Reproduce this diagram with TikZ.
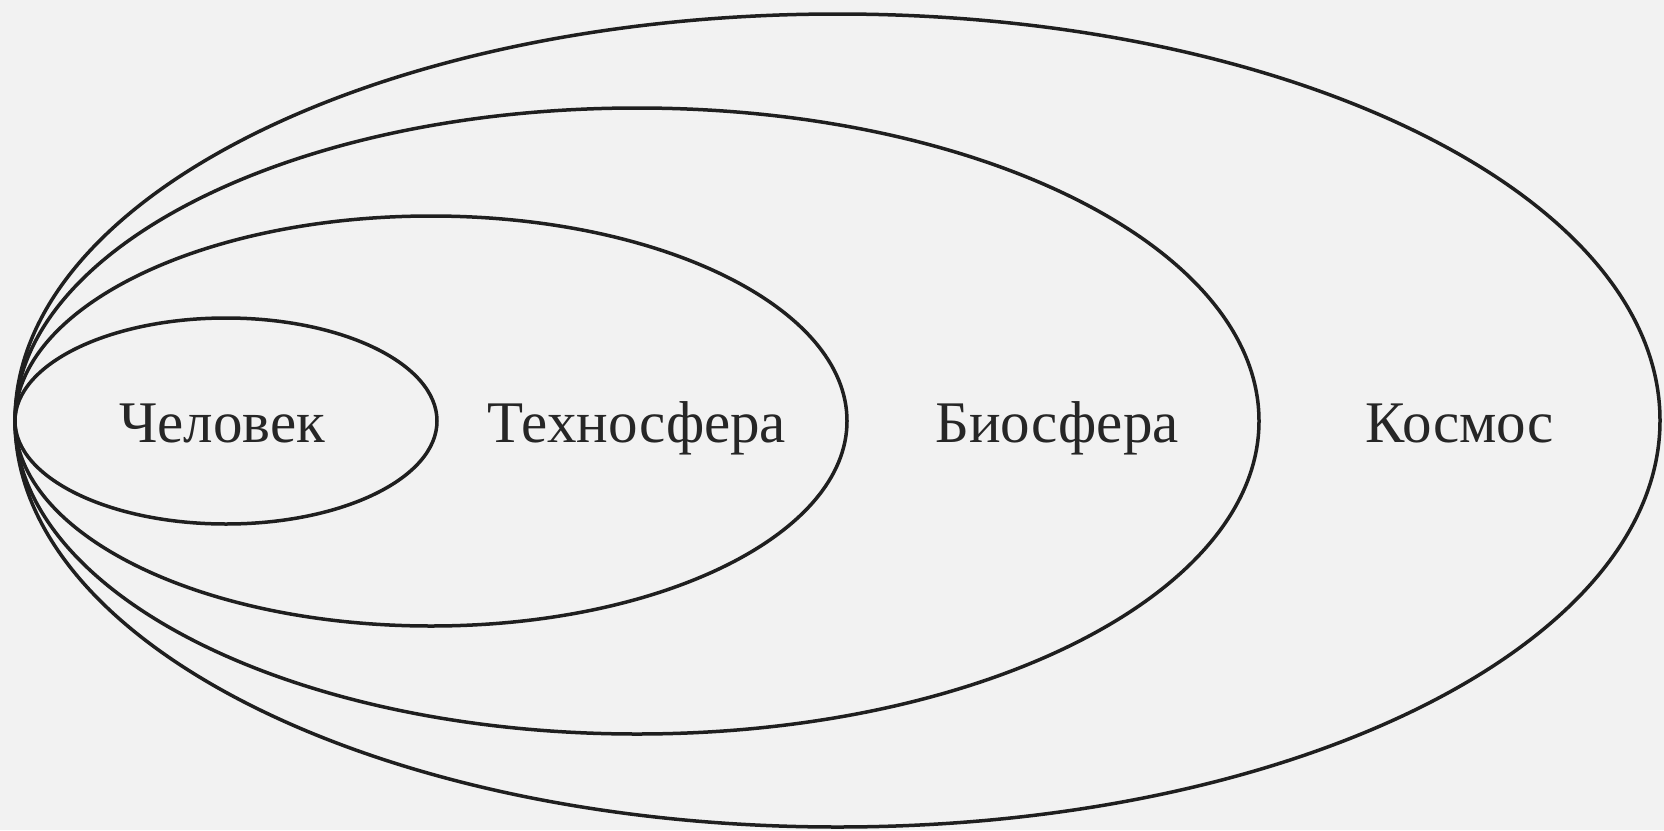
\documentclass[tikz,border=0pt]{standalone}
\usepackage{fontspec}
\setmainfont{Liberation Serif}
\begin{document}
\begin{tikzpicture}[x=1pt,y=-1pt,
  ring/.style={draw=black!88, line width=3.5pt},
  lbl/.style={font=\fontsize{59}{60}\selectfont, text=black!85, anchor=base, inner sep=0pt}]
\fill[black!5] (0,0) rectangle (1664,830);
\useasboundingbox (0,0) rectangle (1664,830);
\draw[ring] (837.5,420.5) ellipse [x radius=822.5pt, y radius=406.5pt];
\draw[ring] (637,421) ellipse [x radius=622pt, y radius=313pt];
\draw[ring] (431,421) ellipse [x radius=416pt, y radius=205pt];
\draw[ring] (226,421) ellipse [x radius=211pt, y radius=103pt];
\node[lbl] (chel) at (222,442) {Человек};
\node[lbl] (tech) at (637,442) {Техносфера};
\node[lbl] (bio) at (1057,442) {Биосфера};
\node[lbl] (kos) at (1460,442) {Космос};
\end{tikzpicture}
\end{document}
